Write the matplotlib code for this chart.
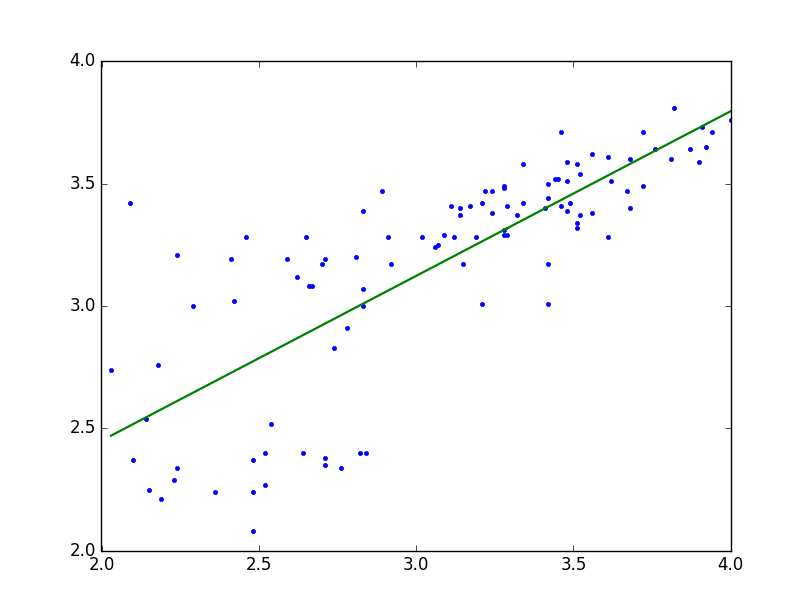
import numpy as np
import matplotlib
matplotlib.use("Agg")
import matplotlib.pyplot as plt

plt.style.use('classic')

# data points
x = [2.03, 2.09, 2.10, 2.14, 2.15, 2.18, 2.19, 2.23, 2.24, 2.24,
     2.29, 2.36, 2.41, 2.42, 2.46, 2.48, 2.48, 2.48, 2.52, 2.52,
     2.54, 2.59, 2.62, 2.64, 2.65, 2.66, 2.67, 2.70, 2.71, 2.71,
     2.71, 2.74, 2.76, 2.78, 2.81, 2.82, 2.83, 2.83, 2.83, 2.84,
     2.89, 2.91, 2.92, 3.02, 3.06, 3.07, 3.09, 3.11, 3.12, 3.14,
     3.14, 3.15, 3.17, 3.19, 3.21, 3.21, 3.22, 3.24, 3.24, 3.28,
     3.28, 3.29, 3.28, 3.28, 3.29, 3.32, 3.34, 3.34, 3.41, 3.42,
     3.42, 3.42, 3.42, 3.44, 3.45, 3.46, 3.46, 3.48, 3.48, 3.48,
     3.49, 3.51, 3.51, 3.51, 3.52, 3.52, 3.56, 3.56, 3.61, 3.61,
     3.62, 3.67, 3.68, 3.68, 3.72, 3.72, 3.76, 3.81, 3.82, 3.87,
     3.90, 3.91, 3.92, 3.94, 4.00]
y = [2.74, 3.42, 2.37, 2.54, 2.25, 2.76, 2.21, 2.29, 3.21, 2.34,
     3.00, 2.24, 3.19, 3.02, 3.28, 2.37, 2.24, 2.08, 2.40, 2.27,
     2.52, 3.19, 3.12, 2.40, 3.28, 3.08, 3.08, 3.17, 3.19, 2.38,
     2.35, 2.83, 2.34, 2.91, 3.20, 2.40, 3.39, 3.07, 3.00, 2.40,
     3.47, 3.28, 3.17, 3.28, 3.24, 3.25, 3.29, 3.41, 3.28, 3.40,
     3.37, 3.17, 3.41, 3.28, 3.42, 3.01, 3.47, 3.47, 3.38, 3.49,
     3.48, 3.41, 3.31, 3.29, 3.29, 3.37, 3.58, 3.42, 3.40, 3.50,
     3.44, 3.17, 3.01, 3.52, 3.52, 3.71, 3.41, 3.59, 3.51, 3.39,
     3.42, 3.58, 3.34, 3.32, 3.54, 3.37, 3.62, 3.38, 3.61, 3.28,
     3.51, 3.47, 3.60, 3.40, 3.71, 3.49, 3.64, 3.60, 3.81, 3.64,
     3.59, 3.73, 3.65, 3.71, 3.76]

# fitted line
slope = 0.673
intercept = 1.104

x = np.array(x)
y = np.array(y)

fig = plt.figure(figsize=(8.12, 6.12), dpi=100)
plt.plot(x, y, 'b.')
plt.plot(x, slope * x + intercept, 'g-', linewidth=1.6)
plt.xlim(2.0, 4.0)
plt.ylim(2.0, 4.0)
plt.xticks([2.0, 2.5, 3.0, 3.5, 4.0])
plt.yticks([2.0, 2.5, 3.0, 3.5, 4.0])

plt.savefig('out.png', dpi=100)
